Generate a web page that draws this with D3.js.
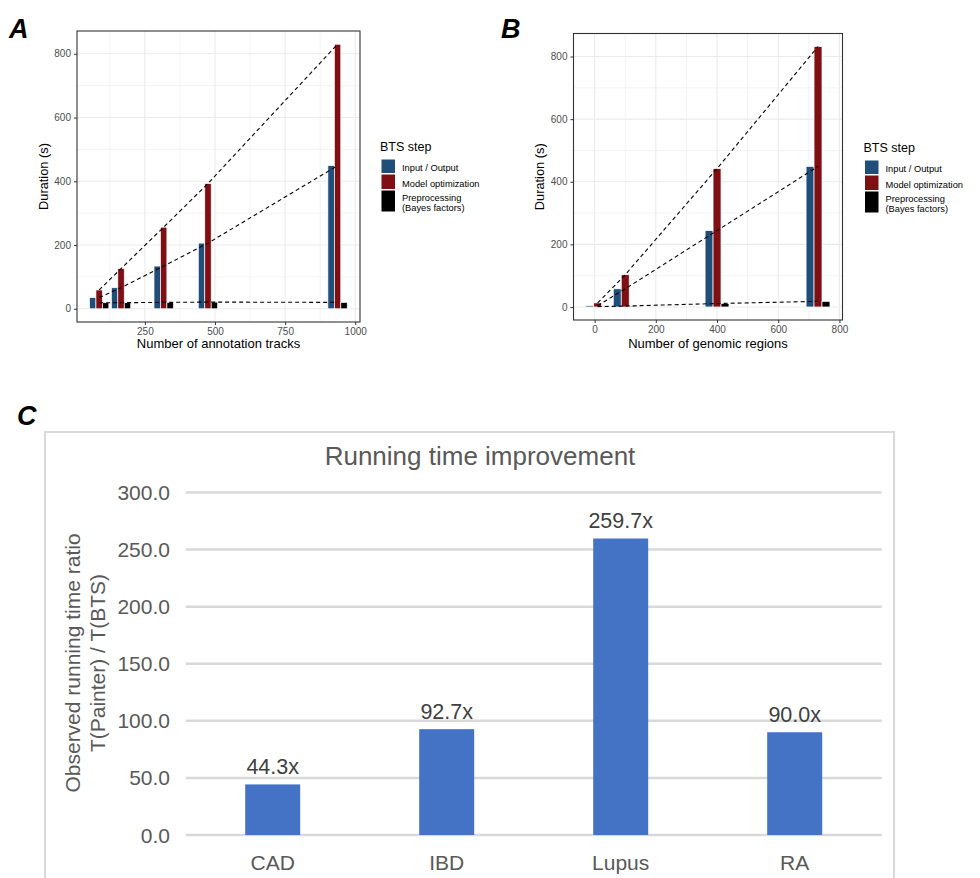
<!DOCTYPE html>
<html>
<head>
<meta charset="utf-8">
<script src="https://cdn.jsdelivr.net/npm/d3@7"></script>
<style>
  body { margin: 0; background: #fff; }
  svg { display: block; font-family: "Liberation Sans", Arial, sans-serif; }
</style>
</head>
<body>
<div id="chart"></div>
<script>
	"use strict";

	// panel A : number of annotation tracks
	var tracksX = [87, 165, 317, 475, 937];
	var tracksIO = [35, 66, 134, 206, 449];
	var tracksOpt = [59, 126, 256, 393, 830];
	var tracksPre = [19, 19, 20, 21, 20];

	// panel B : number of genomic regions
	var regionsX = [10, 100, 400, 730];
	var regionsIO = [4, 58, 244, 449];
	var regionsOpt = [13, 103, 442, 832];
	var regionsPre = [1, 3, 11, 18];

	var steps = ["Input / Output", "Model optimization", "Preprocessing|(Bayes factors)"];
	var stepColors = ["#1f4e79", "#800f14", "#000000"];

	var durationTicks = [0, 200, 400, 600, 800];
	var durationMinor = [100, 300, 500, 700];
	var tracksTicks = [250, 500, 750, 1000];
	var tracksMinor = [125, 375, 625, 875];
	var regionsTicks = [0, 200, 400, 600, 800];
	var regionsMinor = [100, 300, 500, 700];

	// panel C : running time improvement
	var diseases = ["CAD", "IBD", "Lupus", "RA"];
	var ratios = [44.3, 92.7, 259.7, 90.0];
	var ratioTicks = [0, 50, 100, 150, 200, 250, 300];

	var svg = d3.select("#chart").append("svg")
		.attr("width", 980)
		.attr("height", 878);

	function drawPanel(cfg) {
		var x = d3.scaleLinear().domain(cfg.xDomain).range([cfg.left, cfg.right]);
		var y = d3.scaleLinear().domain(cfg.yDomain).range([cfg.bottom, cfg.top]);
		var g = svg.append("g");

		// minor grid
		g.selectAll(null).data(cfg.xMinor).enter().append("line")
			.attr("x1", function(d) { return x(d); }).attr("x2", function(d) { return x(d); })
			.attr("y1", cfg.top).attr("y2", cfg.bottom)
			.attr("stroke", "#ebebeb").attr("stroke-width", 0.6);
		g.selectAll(null).data(durationMinor).enter().append("line")
			.attr("y1", function(d) { return y(d); }).attr("y2", function(d) { return y(d); })
			.attr("x1", cfg.left).attr("x2", cfg.right)
			.attr("stroke", "#ebebeb").attr("stroke-width", 0.6);
		// major grid
		g.selectAll(null).data(cfg.xTicks).enter().append("line")
			.attr("x1", function(d) { return x(d); }).attr("x2", function(d) { return x(d); })
			.attr("y1", cfg.top).attr("y2", cfg.bottom)
			.attr("stroke", "#ebebeb").attr("stroke-width", 1.1);
		g.selectAll(null).data(durationTicks).enter().append("line")
			.attr("y1", function(d) { return y(d); }).attr("y2", function(d) { return y(d); })
			.attr("x1", cfg.left).attr("x2", cfg.right)
			.attr("stroke", "#ebebeb").attr("stroke-width", 1.1);

		// dodged bars
		cfg.series.forEach(function(vals, si) {
			g.selectAll(null).data(vals).enter().append("rect")
				.attr("x", function(d, i) { return x(cfg.xs[i] + (si - 1.5) * cfg.slot); })
				.attr("width", x(cfg.slot) - x(0))
				.attr("y", function(d) { return y(d); })
				.attr("height", function(d) { return y(0) - y(d); })
				.attr("fill", stepColors[si])
				.attr("stroke", "#ffffff")
				.attr("stroke-width", 0.7);
		});

		// dashed trend lines
		var line = d3.line()
			.x(function(d, i) { return x(cfg.xs[i]); })
			.y(function(d) { return y(d); });
		cfg.series.forEach(function(vals) {
			g.append("path")
				.attr("d", line(vals))
				.attr("fill", "none")
				.attr("stroke", "#000")
				.attr("stroke-width", 1.1)
				.attr("stroke-dasharray", "4,3");
		});

		g.append("rect")
			.attr("x", cfg.left).attr("y", cfg.top)
			.attr("width", cfg.right - cfg.left).attr("height", cfg.bottom - cfg.top)
			.attr("fill", "none").attr("stroke", "#333").attr("stroke-width", 1.1);

		var ya = g.append("g")
			.attr("transform", "translate(" + cfg.left + ",0)")
			.call(d3.axisLeft(y).tickValues(durationTicks).tickSize(3).tickPadding(3).tickFormat(d3.format("d")));
		var xa = g.append("g")
			.attr("transform", "translate(0," + cfg.bottom + ")")
			.call(d3.axisBottom(x).tickValues(cfg.xTicks).tickSize(3).tickPadding(3).tickFormat(d3.format("d")));
		[ya, xa].forEach(function(a) {
			a.select(".domain").remove();
			a.selectAll("line").attr("stroke", "#333");
			a.selectAll("text").attr("fill", "#4d4d4d").style("font-size", "10px")
				.style("font-family", "Liberation Sans, Arial, sans-serif");
		});

		g.append("text")
			.attr("x", (cfg.left + cfg.right) / 2).attr("y", 348)
			.attr("text-anchor", "middle").style("font-size", "13px")
			.text(cfg.xTitle);
		g.append("text")
			.attr("transform", "translate(" + (cfg.left - 29.5) + "," + ((cfg.top + cfg.bottom) / 2) + ") rotate(-90)")
			.attr("text-anchor", "middle").style("font-size", "12.8px")
			.text("Duration (s)");

		g.append("text")
			.attr("x", cfg.labelX).attr("y", 38)
			.style("font-size", "27px").style("font-weight", "bold").style("font-style", "italic")
			.text(cfg.label);

		// legend
		var lg = g.append("g").attr("transform", "translate(" + cfg.legendX + "," + cfg.legendDy + ")");
		lg.append("text").attr("x", 0).attr("y", 151).style("font-size", "12.5px").text("BTS step");
		var keys = [[159.5, 13.5], [174.5, 14.5], [190.5, 21]];
		lg.selectAll(null).data(steps).enter().append("rect")
			.attr("x", 1.5).attr("width", 13.5)
			.attr("y", function(d, i) { return keys[i][0]; })
			.attr("height", function(d, i) { return keys[i][1]; })
			.attr("fill", function(d, i) { return stepColors[i]; });
		var baselines = [171, 186.8, 200.8];
		lg.selectAll(null).data(steps).enter().append("text")
			.attr("x", 22).attr("y", function(d, i) { return baselines[i]; })
			.style("font-size", "9.3px")
			.each(function(d) {
				var t = d3.select(this);
				d.split("|").forEach(function(part, k) {
					t.append("tspan").attr("x", 22).attr("dy", k === 0 ? 0 : 10).text(part);
				});
			});
	}

	drawPanel({
		left: 77, right: 360, top: 31, bottom: 322,
		xDomain: [8, 1017], yDomain: [-41.5, 871.5],
		xTicks: tracksTicks, xMinor: tracksMinor,
		xs: tracksX, series: [tracksIO, tracksOpt, tracksPre], slot: 23,
		xTitle: "Number of annotation tracks", label: "A", labelX: 9,
		legendX: 380, legendDy: 0
	});

	drawPanel({
		left: 573.5, right: 842.5, top: 33.5, bottom: 320,
		xDomain: [-69, 810], yDomain: [-41.6, 873.6],
		xTicks: regionsTicks, xMinor: regionsMinor,
		xs: regionsX, series: [regionsIO, regionsOpt, regionsPre], slot: 26,
		xTitle: "Number of genomic regions", label: "B", labelX: 501,
		legendX: 863.5, legendDy: 1
	});

	// ---- panel C ----
	var gc = svg.append("g");
	var cx = d3.scaleBand().domain(diseases).range([185.7, 881.7]).paddingInner(0.684).paddingOuter(0.342);
	var cy = d3.scaleLinear().domain([0, 300]).range([835, 492.5]);
	var grey = "#595959";

	gc.append("text").attr("x", 17).attr("y", 425)
		.style("font-size", "27px").style("font-weight", "bold").style("font-style", "italic")
		.text("C");

	gc.append("rect")
		.attr("x", 45).attr("y", 432).attr("width", 849).attr("height", 470)
		.attr("fill", "#fff").attr("stroke", "#d9d9d9").attr("stroke-width", 2);

	gc.append("text").attr("x", 480).attr("y", 465)
		.attr("text-anchor", "middle").attr("fill", grey).style("font-size", "26px")
		.text("Running time improvement");

	gc.selectAll(null).data(ratioTicks).enter().append("line")
		.attr("x1", 185.7).attr("x2", 881.7)
		.attr("y1", function(d) { return cy(d); }).attr("y2", function(d) { return cy(d); })
		.attr("stroke", "#d9d9d9").attr("stroke-width", 2.5);

	gc.selectAll(null).data(ratioTicks).enter().append("text")
		.attr("x", 170).attr("y", function(d) { return cy(d) + 7.5; })
		.attr("text-anchor", "end").attr("fill", grey).style("font-size", "21px")
		.text(function(d) { return d3.format(".1f")(d); });

	gc.selectAll(null).data(ratios).enter().append("rect")
		.attr("x", function(d, i) { return cx(diseases[i]); })
		.attr("width", cx.bandwidth())
		.attr("y", function(d) { return cy(d); })
		.attr("height", function(d) { return cy(0) - cy(d); })
		.attr("fill", "#4472c4");

	gc.selectAll(null).data(ratios).enter().append("text")
		.attr("x", function(d, i) { return cx(diseases[i]) + cx.bandwidth() / 2; })
		.attr("y", function(d) { return cy(d) - 10.5; })
		.attr("text-anchor", "middle").attr("fill", "#404040").style("font-size", "21.5px")
		.text(function(d) { return d3.format(".1f")(d) + "x"; });

	gc.selectAll(null).data(diseases).enter().append("text")
		.attr("x", function(d) { return cx(d) + cx.bandwidth() / 2; })
		.attr("y", 870)
		.attr("text-anchor", "middle").attr("fill", grey).style("font-size", "21px")
		.text(function(d) { return d; });

	var yt = gc.append("text")
		.attr("transform", "translate(0,663) rotate(-90)")
		.attr("text-anchor", "middle").attr("fill", grey).style("font-size", "21px");
	yt.append("tspan").attr("x", 0).attr("y", 80).text("Observed running time ratio");
	yt.append("tspan").attr("x", 0).attr("y", 105).text("T(Painter) / T(BTS)");
</script>
</body>
</html>
